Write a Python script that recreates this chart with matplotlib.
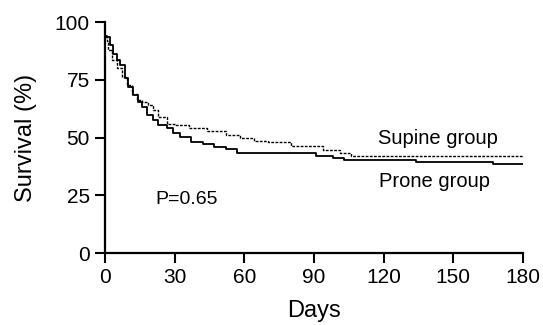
import matplotlib
matplotlib.use('Agg')
import matplotlib.pyplot as plt

plt.rcParams['font.family'] = ['Liberation Sans', 'DejaVu Sans']

# Kaplan-Meier step points (days, survival %)
supine_days = [0, 0.7, 1.4, 2.9, 5, 7.2, 9.3, 11.5, 13.6, 15.8, 18.7, 20.8, 23, 26.6,
               30, 36, 44, 52, 58, 64, 70, 80, 94, 101, 106, 180]
supine_surv = [93.5, 92, 88, 83.5, 80, 76.3, 72.7, 69, 66.2, 65.5, 64, 61.9, 59, 56,
               55.4, 54, 53, 51, 50, 48.7, 48, 46.3, 44.6, 43.3, 42, 42]

prone_days = [0, 0.7, 2.2, 3.6, 5, 6.5, 8.6, 10, 12.2, 14.3, 15.8, 18, 20.8, 23, 26.6,
              29.4, 32.3, 37, 42, 47, 52, 57, 91, 98, 103, 134, 167, 180]
prone_surv = [94, 93.6, 90, 86.4, 83.5, 81.4, 75.6, 72, 68.4, 65.5, 63.3, 59.7, 57.6,
              55.4, 54, 51.8, 50.3, 48, 47, 46, 45, 43.3, 42, 41, 40.3, 39.4, 38.5, 38.5]

x_ticks = [0, 30, 60, 90, 120, 150, 180]
y_ticks = [0, 25, 50, 75, 100]

fig = plt.figure(figsize=(5.43, 3.25), dpi=100)
ax = fig.add_axes([0.1934, 0.2215, 0.7696, 0.7105])

ax.step(supine_days, supine_surv, where='post', color='black', lw=1.0,
        linestyle=(0, (2, 1)))
ax.step(prone_days, prone_surv, where='post', color='black', lw=1.3)

ax.set_xlim(0, 180)
ax.set_ylim(0, 100)
ax.set_xticks(x_ticks)
ax.set_yticks(y_ticks)
ax.tick_params(direction='out', length=7, width=1.5, labelsize=15, pad=4)

for s in ['top', 'right']:
    ax.spines[s].set_visible(False)
for s in ['left', 'bottom']:
    ax.spines[s].set_linewidth(1.6)

ax.set_xlabel('Days', fontsize=17, labelpad=9)
ax.set_ylabel('Survival (%)', fontsize=17, labelpad=13)

ax.text(117.5, 49.8, 'Supine group', fontsize=14.5, va='center', ha='left')
ax.text(118, 31, 'Prone group', fontsize=14.5, va='center', ha='left')
ax.text(21.5, 23, 'P=0.65', fontsize=14, va='center', ha='left')

fig.savefig('out.png', dpi=100)
